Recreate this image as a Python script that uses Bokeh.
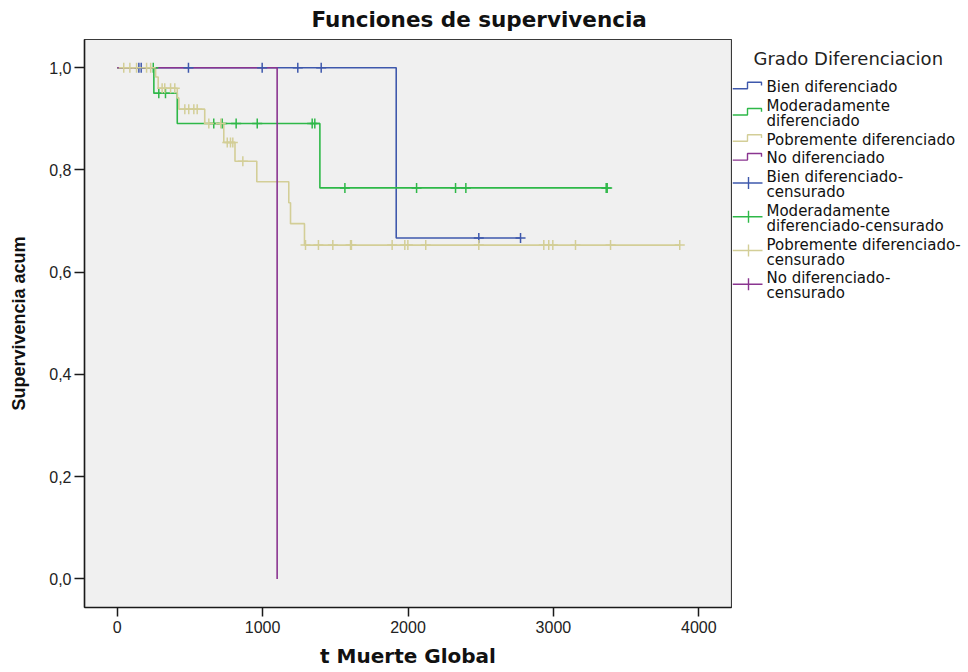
from bokeh.plotting import figure
from bokeh.models import Range1d, FixedTicker
from bokeh.layouts import row
from bokeh.embed import file_html
from bokeh.resources import INLINE
from bokeh.core.properties import value

# ---------------- DATA ----------------
group_names = ["Bien diferenciado", "Moderadamente diferenciado",
               "Pobremente diferenciado", "No diferenciado"]
group_colors = ["#3E58AC", "#2EB848", "#D3CE97", "#8A3590"]

bien_event_t = [1919]
bien_event_s = [0.667]
bien_cens_t = [149, 165, 490, 997, 1242, 1403, 2487, 2774]

mod_event_t = [252, 413, 1394]
mod_event_s = [0.950, 0.891, 0.765]
mod_cens_t = [248, 286, 332, 664, 722, 818, 963, 1341, 1359,
              1566, 2059, 2327, 2398, 3363, 3370]

pob_event_t = [264, 282, 413, 424, 602, 733, 810, 960, 1180, 1192, 1288]
pob_event_s = [0.982, 0.960, 0.941, 0.919, 0.891, 0.854, 0.817, 0.777,
               0.736, 0.695, 0.653]
pob_cens_t = [45, 87, 133, 202, 230, 309, 327, 367, 396, 465, 492, 527, 550,
              630, 712, 757, 779, 795, 864, 1295, 1384, 1483, 1605, 1611,
              1891, 1978, 1999, 2122, 2487, 2934, 2968, 2996, 3152, 3393, 3869]

no_event_t = [1100]
no_event_s = [0.0]
no_cens_t = []

x_ticks = [0, 1000, 2000, 3000, 4000]
y_ticks = [0.0, 0.2, 0.4, 0.6, 0.8, 1.0]
y_tick_labels = ["0,0", "0,2", "0,4", "0,6", "0,8", "1,0"]

chart_title = "Funciones de supervivencia"
x_label = "t Muerte Global"
y_label = "Supervivencia acum"
legend_title = "Grado Diferenciacion"
legend_labels = [
    ["Bien diferenciado"],
    ["Moderadamente", "diferenciado"],
    ["Pobremente diferenciado"],
    ["No diferenciado"],
    ["Bien diferenciado-", "censurado"],
    ["Moderadamente", "diferenciado-censurado"],
    ["Pobremente diferenciado-", "censurado"],
    ["No diferenciado-", "censurado"],
]
legend_kinds = ["step"] * 4 + ["cross"] * 4

series = [
    (bien_event_t, bien_event_s, bien_cens_t),
    (mod_event_t, mod_event_s, mod_cens_t),
    (pob_event_t, pob_event_s, pob_cens_t),
    (no_event_t, no_event_s, no_cens_t),
]


def step_xy(ev_t, ev_s, cens_t):
    xs, ys = [0.0], [1.0]
    s = 1.0
    for t, v in zip(ev_t, ev_s):
        xs += [t, t]
        ys += [s, v]
        s = v
    end = max(list(ev_t) + list(cens_t))
    if end > xs[-1]:
        xs.append(end)
        ys.append(s)
    return xs, ys


def surv_at(ev_t, ev_s, t):
    s = 1.0
    for et, v in zip(ev_t, ev_s):
        if et <= t:
            s = v
    return s


H = 670
FRAME_TOP = 39
FRAME_BOTTOM = 608

# ---------------- MAIN PLOT ----------------
p = figure(width=732, height=H,
           x_range=Range1d(-225, 4225), y_range=Range1d(-0.056, 1.0553),
           output_backend="svg", toolbar_location=None,
           min_border_left=84, min_border_right=1,
           min_border_top=FRAME_TOP, min_border_bottom=H - FRAME_BOTTOM)
p.background_fill_color = "#F0F0F0"
p.border_fill_color = "white"
p.outline_line_color = "#3a3a3a"
p.outline_line_width = 1.2
p.grid.visible = False

p.title.text = chart_title
p.title.text_font = "DejaVu Sans"
p.title.text_font_style = "bold"
p.title.text_font_size = "21.5px"
p.title.text_color = "#111111"
p.title.align = "left"
p.title.offset = 227
p.title.standoff = 12
p.title.vertical_align = "top"

p.xaxis.ticker = FixedTicker(ticks=x_ticks)
p.yaxis.ticker = FixedTicker(ticks=y_ticks)
p.yaxis.major_label_overrides = {v: l for v, l in zip(y_ticks, y_tick_labels)}

for ax in (p.xaxis[0], p.yaxis[0]):
    ax.axis_line_color = "#1a1a1a"
    ax.axis_line_width = 1.5
    ax.major_tick_line_color = "#1a1a1a"
    ax.major_tick_line_width = 1.5
    ax.major_tick_in = 0
    ax.minor_tick_line_color = None
    ax.major_label_text_font = "Liberation Sans"
    ax.major_label_text_font_size = "16px"
    ax.major_label_text_color = "#222222"
    ax.axis_label_text_font_style = "bold"
    ax.axis_label_text_color = "#111111"

p.xaxis.major_tick_out = 9
p.yaxis.major_tick_out = 10
p.xaxis.major_label_standoff = 4
p.yaxis.major_label_standoff = 3
p.xaxis.axis_label = x_label
p.xaxis.axis_label_text_font = "DejaVu Sans"
p.xaxis.axis_label_text_font_size = "20px"
p.xaxis.axis_label_standoff = 8
p.yaxis.axis_label = y_label
p.yaxis.axis_label_text_font = "Liberation Sans"
p.yaxis.axis_label_text_font_size = "18px"
p.yaxis.axis_label_standoff = 17

for (ev_t, ev_s, c_t), col in zip(series, group_colors):
    xs, ys = step_xy(ev_t, ev_s, c_t)
    p.line(xs, ys, line_color=col, line_width=1.6)

for (ev_t, ev_s, c_t), col in zip(series, group_colors):
    if len(c_t) == 0:
        continue
    cy = [surv_at(ev_t, ev_s, t) for t in c_t]
    p.scatter(c_t, cy, marker="cross", size=10, line_color=col, line_width=1.5)

# ---------------- LEGEND PANEL ----------------
# its frame is aligned with the main frame (rows align frames), so the
# y range is expressed in page pixels between the frame's top and bottom
LW = 968 - 732
lg = figure(width=LW, height=H,
            x_range=Range1d(732, 968), y_range=Range1d(FRAME_BOTTOM, FRAME_TOP),
            output_backend="svg", toolbar_location=None,
            min_border_left=0, min_border_right=0,
            min_border_top=FRAME_TOP, min_border_bottom=H - FRAME_BOTTOM,
            x_axis_location=None, y_axis_location=None)
lg.outline_line_color = None
lg.grid.visible = False
lg.background_fill_color = "white"
lg.border_fill_color = "white"

lg.text([753], [58], text=[legend_title], text_baseline="middle", text_align="left",
        text_font=value("DejaVu Sans"), text_font_size="18px", text_color="#222222")

line_h = 15.0
gap = 3.8
ytop = 79.2
gx0, gx1, gx2 = 732, 747, 761
text_x = 766
item_colors = group_colors + group_colors
tx, ty, tt = [], [], []
step_xs, step_ys, step_cols = [], [], []
cr_xs, cr_ys, cr_cols = [], [], []
for lines, kind, col in zip(legend_labels, legend_kinds, item_colors):
    n = len(lines)
    for i, s in enumerate(lines):
        tx.append(text_x)
        ty.append(ytop + line_h * (i + 0.5))
        tt.append(s)
    mid = ytop + line_h * n / 2.0 - 1.6
    if kind == "step":
        lo, hi = mid + 3.3, mid - 3.3
        step_xs.append([gx0, gx1, gx1, gx2, gx2])
        step_ys.append([lo, lo, hi, hi, mid])
        step_cols.append(col)
    else:
        cr_xs += [[gx0, gx2 + 1], [748, 748]]
        cr_ys += [[mid, mid], [mid - 6, mid + 6]]
        cr_cols += [col, col]
    ytop += line_h * n + gap

lg.multi_line(step_xs, step_ys, line_color=step_cols, line_width=1.4)
lg.multi_line(cr_xs, cr_ys, line_color=cr_cols, line_width=1.4)
lg.text(tx, ty, text=tt, text_baseline="middle", text_align="left",
        text_font=value("DejaVu Sans"), text_font_size="15px", text_color="#111111")

layout = row(p, lg)
open("out.html", "w").write(file_html(layout, INLINE))
